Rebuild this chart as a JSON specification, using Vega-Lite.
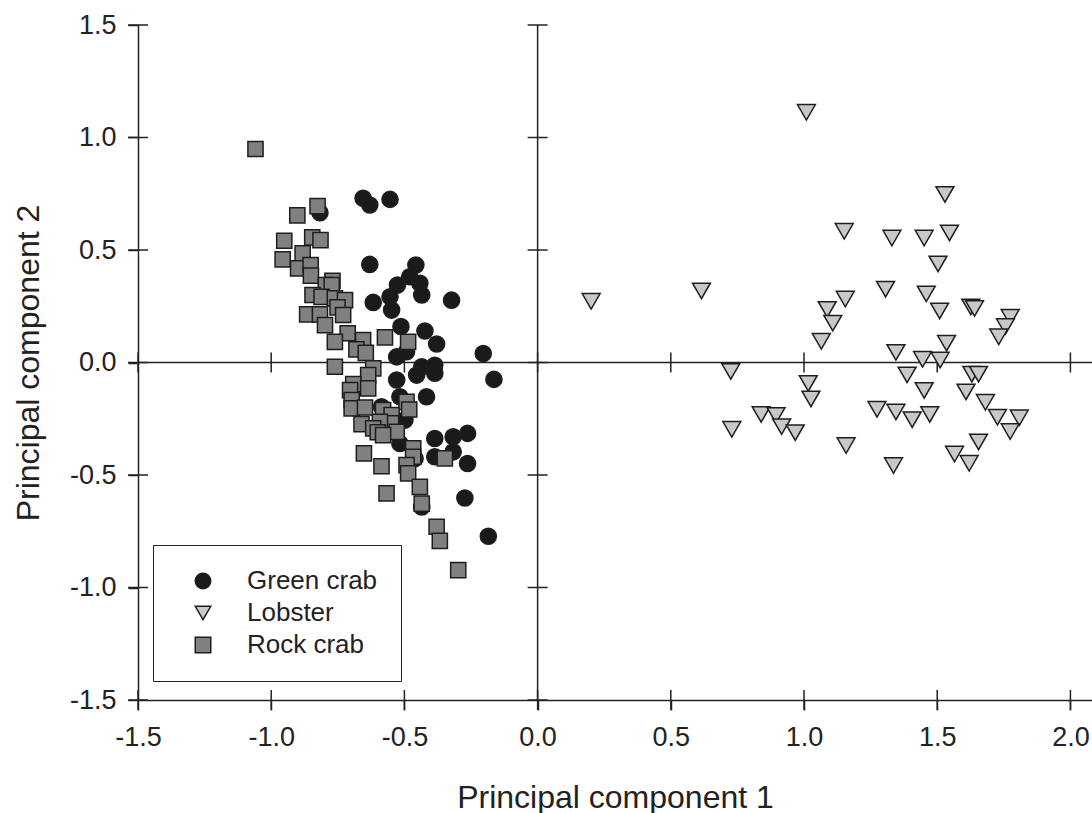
{
  "$schema": "https://vega.github.io/schema/vega-lite/v6.json",
  "autosize": {"type": "none"},
  "padding": {"left": 138, "top": 25, "right": 0, "bottom": 113},
  "width": 954,
  "height": 675,
  "background": "white",
  "config": {
    "font": "Liberation Sans",
    "view": {"stroke": null},
    "legend": {
      "padding": 23,
      "strokeColor": "#222222",
      "fillColor": "white",
      "labelFont": "Liberation Sans",
      "labelFontSize": 26,
      "labelColor": "#222222",
      "symbolOffset": 14,
      "labelOffset": 31,
      "rowPadding": 6,
      "symbolSize": 240,
      "symbolStrokeColor": "#1e1e1e",
      "symbolStrokeWidth": 1.5
    }
  },
  "datasets": {
    "pts": [
      {"species": "Green crab", "x": -0.655, "y": 0.730},
      {"species": "Green crab", "x": -0.630, "y": 0.700},
      {"species": "Green crab", "x": -0.554, "y": 0.725},
      {"species": "Green crab", "x": -0.817, "y": 0.666},
      {"species": "Green crab", "x": -0.630, "y": 0.436},
      {"species": "Green crab", "x": -0.457, "y": 0.433},
      {"species": "Green crab", "x": -0.480, "y": 0.381},
      {"species": "Green crab", "x": -0.442, "y": 0.352},
      {"species": "Green crab", "x": -0.526, "y": 0.344},
      {"species": "Green crab", "x": -0.435, "y": 0.300},
      {"species": "Green crab", "x": -0.554, "y": 0.292},
      {"species": "Green crab", "x": -0.617, "y": 0.267},
      {"species": "Green crab", "x": -0.323, "y": 0.277},
      {"species": "Green crab", "x": -0.548, "y": 0.233},
      {"species": "Green crab", "x": -0.513, "y": 0.160},
      {"species": "Green crab", "x": -0.423, "y": 0.140},
      {"species": "Green crab", "x": -0.379, "y": 0.082},
      {"species": "Green crab", "x": -0.204, "y": 0.040},
      {"species": "Green crab", "x": -0.529, "y": 0.025},
      {"species": "Green crab", "x": -0.492, "y": 0.048},
      {"species": "Green crab", "x": -0.435, "y": -0.019},
      {"species": "Green crab", "x": -0.386, "y": -0.012},
      {"species": "Green crab", "x": -0.386, "y": -0.048},
      {"species": "Green crab", "x": -0.454, "y": -0.056},
      {"species": "Green crab", "x": -0.529, "y": -0.078},
      {"species": "Green crab", "x": -0.164, "y": -0.075},
      {"species": "Green crab", "x": -0.417, "y": -0.152},
      {"species": "Green crab", "x": -0.517, "y": -0.152},
      {"species": "Green crab", "x": -0.586, "y": -0.197},
      {"species": "Green crab", "x": -0.498, "y": -0.256},
      {"species": "Green crab", "x": -0.386, "y": -0.338},
      {"species": "Green crab", "x": -0.317, "y": -0.330},
      {"species": "Green crab", "x": -0.263, "y": -0.315},
      {"species": "Green crab", "x": -0.386, "y": -0.419},
      {"species": "Green crab", "x": -0.317, "y": -0.397},
      {"species": "Green crab", "x": -0.263, "y": -0.449},
      {"species": "Green crab", "x": -0.517, "y": -0.360},
      {"species": "Green crab", "x": -0.273, "y": -0.602},
      {"species": "Green crab", "x": -0.185, "y": -0.772},
      {"species": "Green crab", "x": -0.435, "y": -0.642},
      {"species": "Green crab", "x": -0.460, "y": -0.427},
      {"species": "Lobster", "x": 1.009, "y": 1.112},
      {"species": "Lobster", "x": 1.529, "y": 0.747},
      {"species": "Lobster", "x": 1.151, "y": 0.583},
      {"species": "Lobster", "x": 1.330, "y": 0.553},
      {"species": "Lobster", "x": 1.451, "y": 0.553},
      {"species": "Lobster", "x": 1.546, "y": 0.576},
      {"species": "Lobster", "x": 1.503, "y": 0.438},
      {"species": "Lobster", "x": 0.201, "y": 0.272},
      {"species": "Lobster", "x": 0.615, "y": 0.318},
      {"species": "Lobster", "x": 1.306, "y": 0.326},
      {"species": "Lobster", "x": 1.459, "y": 0.305},
      {"species": "Lobster", "x": 1.155, "y": 0.282},
      {"species": "Lobster", "x": 1.087, "y": 0.236},
      {"species": "Lobster", "x": 1.509, "y": 0.229},
      {"species": "Lobster", "x": 1.626, "y": 0.247},
      {"species": "Lobster", "x": 1.640, "y": 0.240},
      {"species": "Lobster", "x": 1.108, "y": 0.175},
      {"species": "Lobster", "x": 1.774, "y": 0.201},
      {"species": "Lobster", "x": 1.756, "y": 0.160},
      {"species": "Lobster", "x": 1.731, "y": 0.114},
      {"species": "Lobster", "x": 1.065, "y": 0.094},
      {"species": "Lobster", "x": 1.535, "y": 0.086},
      {"species": "Lobster", "x": 1.345, "y": 0.045},
      {"species": "Lobster", "x": 1.445, "y": 0.014},
      {"species": "Lobster", "x": 1.511, "y": 0.011},
      {"species": "Lobster", "x": 0.725, "y": -0.040},
      {"species": "Lobster", "x": 1.387, "y": -0.055},
      {"species": "Lobster", "x": 1.630, "y": -0.052},
      {"species": "Lobster", "x": 1.655, "y": -0.052},
      {"species": "Lobster", "x": 1.016, "y": -0.093},
      {"species": "Lobster", "x": 1.451, "y": -0.124},
      {"species": "Lobster", "x": 1.608, "y": -0.131},
      {"species": "Lobster", "x": 1.026, "y": -0.162},
      {"species": "Lobster", "x": 1.681, "y": -0.177},
      {"species": "Lobster", "x": 1.274, "y": -0.208},
      {"species": "Lobster", "x": 1.345, "y": -0.220},
      {"species": "Lobster", "x": 1.472, "y": -0.231},
      {"species": "Lobster", "x": 1.406, "y": -0.254},
      {"species": "Lobster", "x": 1.726, "y": -0.243},
      {"species": "Lobster", "x": 1.808, "y": -0.246},
      {"species": "Lobster", "x": 0.839, "y": -0.231},
      {"species": "Lobster", "x": 0.895, "y": -0.235},
      {"species": "Lobster", "x": 0.916, "y": -0.285},
      {"species": "Lobster", "x": 0.967, "y": -0.312},
      {"species": "Lobster", "x": 0.729, "y": -0.297},
      {"species": "Lobster", "x": 1.774, "y": -0.307},
      {"species": "Lobster", "x": 1.158, "y": -0.369},
      {"species": "Lobster", "x": 1.655, "y": -0.353},
      {"species": "Lobster", "x": 1.565, "y": -0.407},
      {"species": "Lobster", "x": 1.620, "y": -0.448},
      {"species": "Lobster", "x": 1.336, "y": -0.458},
      {"species": "Rock crab", "x": -1.059, "y": 0.949},
      {"species": "Rock crab", "x": -0.826, "y": 0.695},
      {"species": "Rock crab", "x": -0.902, "y": 0.654},
      {"species": "Rock crab", "x": -0.951, "y": 0.541},
      {"species": "Rock crab", "x": -0.846, "y": 0.556},
      {"species": "Rock crab", "x": -0.815, "y": 0.544},
      {"species": "Rock crab", "x": -0.957, "y": 0.458},
      {"species": "Rock crab", "x": -0.882, "y": 0.485},
      {"species": "Rock crab", "x": -0.899, "y": 0.418},
      {"species": "Rock crab", "x": -0.852, "y": 0.433},
      {"species": "Rock crab", "x": -0.851, "y": 0.386},
      {"species": "Rock crab", "x": -0.770, "y": 0.363},
      {"species": "Rock crab", "x": -0.795, "y": 0.344},
      {"species": "Rock crab", "x": -0.773, "y": 0.344},
      {"species": "Rock crab", "x": -0.845, "y": 0.300},
      {"species": "Rock crab", "x": -0.811, "y": 0.292},
      {"species": "Rock crab", "x": -0.761, "y": 0.285},
      {"species": "Rock crab", "x": -0.723, "y": 0.277},
      {"species": "Rock crab", "x": -0.751, "y": 0.245},
      {"species": "Rock crab", "x": -0.865, "y": 0.214},
      {"species": "Rock crab", "x": -0.817, "y": 0.214},
      {"species": "Rock crab", "x": -0.730, "y": 0.211},
      {"species": "Rock crab", "x": -0.798, "y": 0.166},
      {"species": "Rock crab", "x": -0.713, "y": 0.130},
      {"species": "Rock crab", "x": -0.761, "y": 0.092},
      {"species": "Rock crab", "x": -0.655, "y": 0.100},
      {"species": "Rock crab", "x": -0.680, "y": 0.058},
      {"species": "Rock crab", "x": -0.645, "y": 0.043},
      {"species": "Rock crab", "x": -0.573, "y": 0.112},
      {"species": "Rock crab", "x": -0.486, "y": 0.092},
      {"species": "Rock crab", "x": -0.761, "y": -0.019},
      {"species": "Rock crab", "x": -0.617, "y": -0.026},
      {"species": "Rock crab", "x": -0.636, "y": -0.056},
      {"species": "Rock crab", "x": -0.692, "y": -0.096},
      {"species": "Rock crab", "x": -0.704, "y": -0.123},
      {"species": "Rock crab", "x": -0.636, "y": -0.115},
      {"species": "Rock crab", "x": -0.698, "y": -0.167},
      {"species": "Rock crab", "x": -0.698, "y": -0.204},
      {"species": "Rock crab", "x": -0.648, "y": -0.200},
      {"species": "Rock crab", "x": -0.580, "y": -0.212},
      {"species": "Rock crab", "x": -0.492, "y": -0.175},
      {"species": "Rock crab", "x": -0.482, "y": -0.209},
      {"species": "Rock crab", "x": -0.548, "y": -0.234},
      {"species": "Rock crab", "x": -0.550, "y": -0.270},
      {"species": "Rock crab", "x": -0.529, "y": -0.308},
      {"species": "Rock crab", "x": -0.592, "y": -0.264},
      {"species": "Rock crab", "x": -0.661, "y": -0.274},
      {"species": "Rock crab", "x": -0.617, "y": -0.293},
      {"species": "Rock crab", "x": -0.600, "y": -0.310},
      {"species": "Rock crab", "x": -0.580, "y": -0.323},
      {"species": "Rock crab", "x": -0.652, "y": -0.404},
      {"species": "Rock crab", "x": -0.586, "y": -0.461},
      {"species": "Rock crab", "x": -0.467, "y": -0.382},
      {"species": "Rock crab", "x": -0.467, "y": -0.419},
      {"species": "Rock crab", "x": -0.492, "y": -0.456},
      {"species": "Rock crab", "x": -0.486, "y": -0.493},
      {"species": "Rock crab", "x": -0.348, "y": -0.426},
      {"species": "Rock crab", "x": -0.567, "y": -0.582},
      {"species": "Rock crab", "x": -0.442, "y": -0.553},
      {"species": "Rock crab", "x": -0.435, "y": -0.627},
      {"species": "Rock crab", "x": -0.379, "y": -0.730},
      {"species": "Rock crab", "x": -0.367, "y": -0.793},
      {"species": "Rock crab", "x": -0.298, "y": -0.923}
    ],
    "xticks": [{"v": -1.5}, {"v": -1.0}, {"v": -0.5}, {"v": 0.0}, {"v": 0.5}, {"v": 1.0}, {"v": 1.5}, {"v": 2.0}],
    "yticks": [{"v": -1.5}, {"v": -1.0}, {"v": -0.5}, {"v": 0.0}, {"v": 0.5}, {"v": 1.0}, {"v": 1.5}],
    "one": [{"v": 0}]
  },
  "layer": [
    {
      "data": {"name": "one"},
      "mark": {"type": "rule", "color": "#222222", "strokeWidth": 1.5},
      "encoding": {"x": {"field": "v", "type": "quantitative"}}
    },
    {
      "data": {"name": "one"},
      "mark": {"type": "rule", "color": "#222222", "strokeWidth": 1.5},
      "encoding": {"y": {"field": "v", "type": "quantitative"}}
    },
    {
      "data": {"name": "xticks"},
      "mark": {"type": "tick", "orient": "vertical", "color": "#222222", "thickness": 1.5, "opacity": 1},
      "encoding": {
        "x": {"field": "v", "type": "quantitative"},
        "y": {"datum": -1.5, "type": "quantitative"},
        "size": {"value": 20}
      }
    },
    {
      "data": {"name": "xticks"},
      "mark": {"type": "tick", "orient": "vertical", "color": "#222222", "thickness": 1.5, "opacity": 1},
      "encoding": {
        "x": {"field": "v", "type": "quantitative"},
        "y": {"datum": 0, "type": "quantitative"},
        "size": {"value": 20}
      }
    },
    {
      "data": {"name": "yticks"},
      "mark": {"type": "tick", "orient": "horizontal", "color": "#222222", "thickness": 1.5, "opacity": 1},
      "encoding": {
        "y": {"field": "v", "type": "quantitative"},
        "x": {"datum": -1.5, "type": "quantitative"},
        "size": {"value": 20}
      }
    },
    {
      "data": {"name": "yticks"},
      "mark": {"type": "tick", "orient": "horizontal", "color": "#222222", "thickness": 1.5, "opacity": 1},
      "encoding": {
        "y": {"field": "v", "type": "quantitative"},
        "x": {"datum": 0, "type": "quantitative"},
        "size": {"value": 20}
      }
    },
    {
      "data": {"name": "pts"},
      "mark": {"type": "point", "filled": true, "opacity": 1, "strokeWidth": 1.5},
      "encoding": {
        "x": {
          "field": "x", "type": "quantitative",
          "scale": {"domain": [-1.5, 2.081], "nice": false, "zero": false},
          "axis": {
            "values": [-1.5, -1.0, -0.5, 0.0, 0.5, 1.0, 1.5, 2.0],
            "labelExpr": "datum.value < 0 ? '-' + format(-datum.value, '.1f') : format(datum.value, '.1f')",
            "grid": false,
            "domainColor": "#222222", "domainWidth": 1.5,
            "tickColor": "#222222", "tickWidth": 1.5, "tickSize": 10,
            "labelFont": "Liberation Sans", "labelFontSize": 27, "labelColor": "#222222",
            "labelPadding": 14, "labelFlush": false, "labelOverlap": false, "labelBound": false,
            "title": "Principal component 1",
            "titleFont": "Liberation Sans", "titleFontSize": 32, "titleFontWeight": "normal", "titleColor": "#222222",
            "titleY": 107, "titleBaseline": "alphabetic"
          }
        },
        "y": {
          "field": "y", "type": "quantitative",
          "scale": {"domain": [-1.5, 1.5], "nice": false, "zero": false},
          "axis": {
            "values": [-1.5, -1.0, -0.5, 0.0, 0.5, 1.0, 1.5],
            "labelExpr": "datum.value < 0 ? '-' + format(-datum.value, '.1f') : format(datum.value, '.1f')",
            "grid": false,
            "domainColor": "#222222", "domainWidth": 1.5,
            "tickColor": "#222222", "tickWidth": 1.5, "tickSize": 10,
            "labelFont": "Liberation Sans", "labelFontSize": 27, "labelColor": "#222222",
            "labelPadding": 12, "labelFlush": false, "labelOverlap": false, "labelBound": false,
            "title": "Principal component 2",
            "titleFont": "Liberation Sans", "titleFontSize": 32, "titleFontWeight": "normal", "titleColor": "#222222",
            "titleX": -100, "titleY": 337.5, "titleAngle": -90, "titleBaseline": "alphabetic"
          }
        },
        "fill": {
          "field": "species", "type": "nominal",
          "scale": {"domain": ["Green crab", "Lobster", "Rock crab"], "range": ["#1a1a1a", "#c8c8c8", "#808080"]},
          "legend": {"title": null, "orient": "none", "legendX": 15, "legendY": 520}
        },
        "stroke": {
          "field": "species", "type": "nominal",
          "scale": {"domain": ["Green crab", "Lobster", "Rock crab"], "range": ["#1e1e1e", "#1e1e1e", "#1e1e1e"]},
          "legend": {"title": null, "orient": "none", "legendX": 15, "legendY": 520}
        },
        "shape": {
          "field": "species", "type": "nominal",
          "scale": {"domain": ["Green crab", "Lobster", "Rock crab"], "range": ["circle", "triangle-down", "square"]},
          "legend": {"title": null, "orient": "none", "legendX": 15, "legendY": 520}
        },
        "size": {
          "condition": [
            {"test": "datum.species === 'Lobster'", "value": 320},
            {"test": "datum.species === 'Rock crab'", "value": 230}
          ],
          "value": 260
        }
      }
    }
  ]
}
